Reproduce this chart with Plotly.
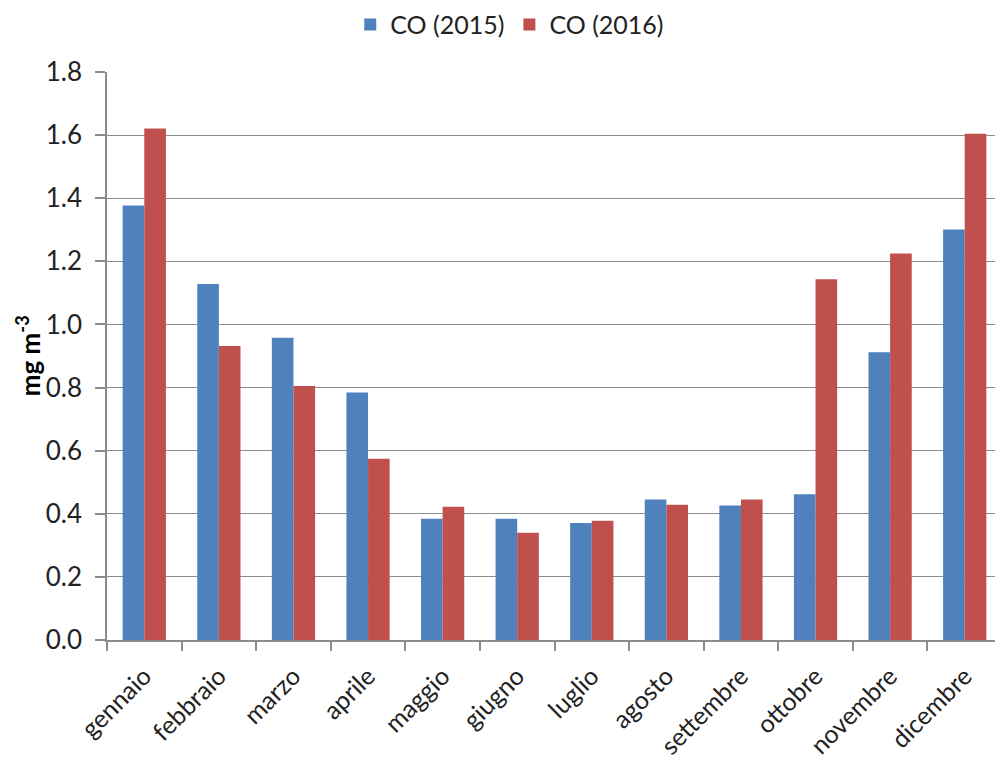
import plotly.graph_objects as go

# --- data --------------------------------------------------------------------
months = ["gennaio", "febbraio", "marzo", "aprile", "maggio", "giugno",
          "luglio", "agosto", "settembre", "ottobre", "novembre", "dicembre"]
co_2015 = [1.377, 1.128, 0.958, 0.784, 0.384, 0.384,
           0.371, 0.445, 0.426, 0.462, 0.912, 1.301]
co_2016 = [1.621, 0.932, 0.805, 0.574, 0.422, 0.340,
           0.378, 0.429, 0.445, 1.143, 1.225, 1.604]
y_ticks = [0.0, 0.2, 0.4, 0.6, 0.8, 1.0, 1.2, 1.4, 1.6, 1.8]

# --- palette -----------------------------------------------------------------
BLUE = "#4F81BD"
RED = "#C0504D"
INK = "#222222"
GRID = "#8C8C8C"
FONT = "Lato"

fig = go.Figure()
fig.add_trace(go.Bar(x=months, y=co_2015, name="CO (2015)", marker_color=BLUE,
                     marker_line_width=0, hoverinfo="skip"))
fig.add_trace(go.Bar(x=months, y=co_2016, name="CO (2016)", marker_color=RED,
                     marker_line_width=0, hoverinfo="skip"))

# page body has an 8px margin, so the figure is sized/offset to compensate
fig.update_layout(
    width=995, height=754,
    paper_bgcolor="white", plot_bgcolor="white",
    margin=dict(l=99, r=1, t=64, b=122, autoexpand=False),
    barmode="group", bargap=0.42, bargroupgap=0,
    font=dict(family=FONT, size=25, color=INK),
    legend=dict(orientation="h", x=0.45, xanchor="center", y=1.083, yanchor="middle",
                font=dict(size=25, color=INK), itemwidth=30, traceorder="normal"),
)

fig.update_xaxes(
    type="category", range=[-0.5, 11.5],
    showline=True, linecolor=GRID, linewidth=1.5,
    ticks="outside", tickson="boundaries", ticklen=9, tickcolor=GRID, tickwidth=1.5,
    ticklabelstandoff=10,
    tickangle=-45, tickfont=dict(size=25, color=INK),
    showgrid=False,
)
fig.update_yaxes(
    range=[0, 1.8], tickvals=y_ticks, ticktext=[f"{v:.1f}" for v in y_ticks],
    showline=True, linecolor=GRID, linewidth=1.5,
    ticks="outside", ticklen=10, tickcolor=GRID, tickwidth=1.5,
    ticklabelstandoff=8,
    showgrid=True, gridcolor=GRID, gridwidth=1.2, zeroline=False,
    tickfont=dict(size=26, color=INK),
)

# y-axis title as a rotated annotation (axis title standoff is clamped by the margin)
fig.add_annotation(xref="paper", yref="paper", x=-0.088, y=0.5,
                   xanchor="center", yanchor="middle", textangle=-90, showarrow=False,
                   text="<b>mg m<sup>-3</sup></b>", font=dict(size=26, color="#000000"))

fig.write_html("out.html")
